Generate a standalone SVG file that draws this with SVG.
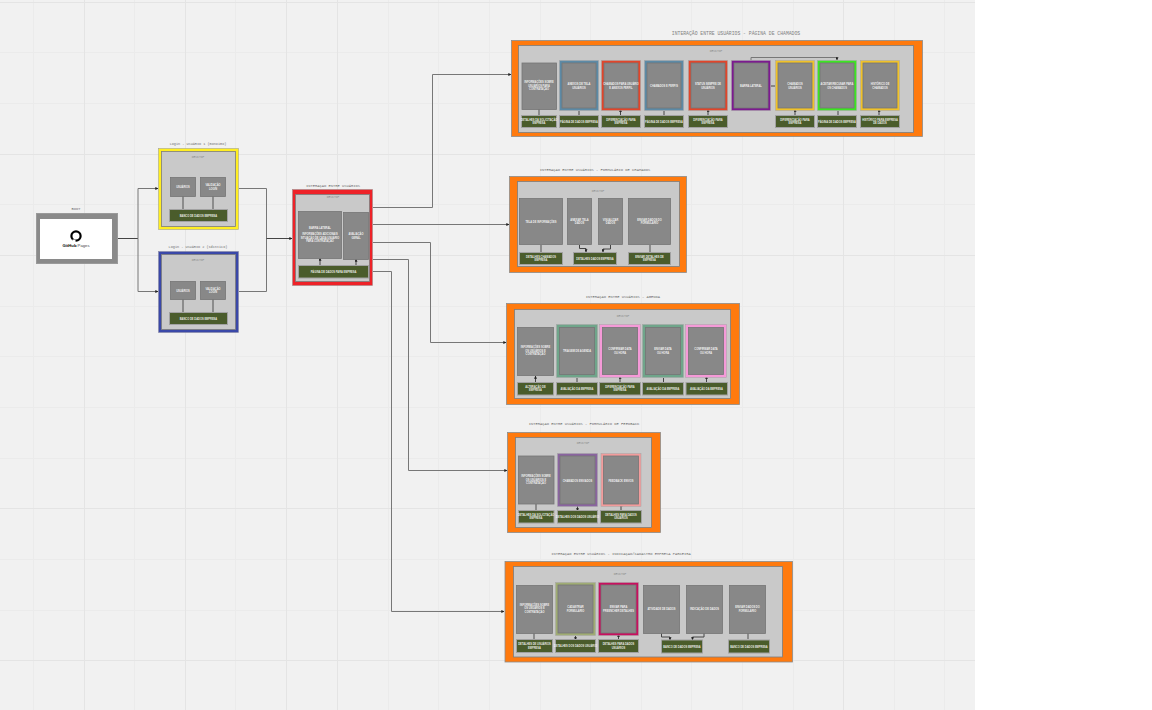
<svg xmlns="http://www.w3.org/2000/svg" width="1152" height="710" viewBox="0 0 1152 710">
<defs>
<style>
.bg{fill:#f1f1f1}
.g{stroke:#ebebeb;stroke-width:1;fill:none}
.G{stroke:#e4e4e4;stroke-width:1;fill:none}
.t{font:4.75px "Liberation Mono",monospace;fill:#808080;text-anchor:middle}
.u{font:3.75px "Liberation Mono",monospace;fill:#707070;text-anchor:middle}
.v{font:3.5px "Liberation Mono",monospace;fill:#707070;text-anchor:middle}
.d{font:3px "Liberation Mono",monospace;fill:#8a8a8a;text-anchor:middle}
.l{font:700 2.6px "Liberation Sans",Arial,sans-serif;fill:#fff;fill-opacity:.9;text-anchor:middle}
.n{fill:#888;stroke:#767676;stroke-width:.8}
.b{fill:#4a5c2b;stroke:#a2a2a2;stroke-width:1}
.p{fill:#c9c9c9;stroke:#7d7d7d;stroke-width:.8}
.o{fill:#ff7a0e;stroke:#8c8c8c;stroke-width:.8}
.f{stroke:#a5a5a5;stroke-width:.5}
.c{fill:none;stroke:#777;stroke-width:1}
.k{fill:none;stroke:#444;stroke-width:1}
.s{fill:none;stroke:#8c8c8c;stroke-width:2}
</style>
<marker id="a" markerWidth="3" markerHeight="3" refX="2.700" refY="1.500" orient="auto" markerUnits="userSpaceOnUse"><path d="M0 0L3 1.500L0 3Z" fill="#222"/></marker>
</defs>
<rect width="1152" height="710" fill="#fff"/>
<rect class="bg" width="975" height="710"/>
<g id="grid">
<path class="g" d="M33.500 0V710M134.500 0V710M235.500 0V710M388.500 0V710M438.500 0V710M489.500 0V710M540.500 0V710M590.500 0V710M641.500 0V710M691.500 0V710M742.500 0V710M793.500 0V710M894.500 0V710M944.500 0V710M0 52.500H975M0 103.500H975M0 204.500H975M0 306.500H975M0 356.500H975M0 407.500H975M0 458.500H975M0 559.500H975M0 610.500H975"/>
<path class="G" d="M84.500 0V710M185.500 0V710M286.500 0V710M337.500 0V710M843.500 0V710M0 2.500H975M0 154.500H975M0 255.500H975M0 508.500H975M0 660.500H975"/>
</g>

<g id="connectors">
<path class="k" d="M117 238.500H138"/>
<path class="c" marker-end="url(#a)" d="M138 238.500V188.500H158"/>
<path class="c" marker-end="url(#a)" d="M138 238.500V291.500H158"/>
<path class="c" d="M239 188.500H266.500V291.500H239"/>
<path class="k" marker-end="url(#a)" d="M266.500 238.500H292"/>
<path class="c" marker-end="url(#a)" d="M373 207.500H432.500V74.500H511"/>
<path class="c" marker-end="url(#a)" d="M373 224.500H509"/>
<path class="c" marker-end="url(#a)" d="M373 242.500H430.500V342.500H506"/>
<path class="c" marker-end="url(#a)" d="M373 259.500H408.500V470.500H507"/>
<path class="c" marker-end="url(#a)" d="M373 271.500H391.500V611.500H504"/>
</g>

<g id="boot">
<text class="u" x="76" y="209.500">BOOT</text>
<rect x="36.500" y="213.500" width="81" height="50" fill="#8a8a8a" stroke="#9a9a9a"/>
<rect x="40" y="219" width="72" height="40" fill="#fff"/>
<circle cx="76" cy="236" r="4.600" fill="none" stroke="#000" stroke-width="2.200"/>
<rect x="72.500" y="239.500" width="3" height="2.500" fill="#fff"/>
<text x="76" y="246.500" font-family="Liberation Sans, Arial, sans-serif" font-size="4.200" text-anchor="middle"><tspan font-weight="700" fill="#000">GitHub</tspan><tspan fill="#444"> Pages</tspan></text>
</g>

<g id="login1">
<text class="v" x="198" y="145">Login - USUÁRIO 1 (monoimo)</text>
<rect x="158.500" y="148.500" width="80" height="81" fill="#ffee22" stroke="#a5a58a" stroke-width=".6"/>
<rect class="p" x="161.500" y="151.500" width="74" height="75"/>
<text class="d" x="198" y="157.500">DESKTOP</text>
<path class="s" d="M183 196V209M213 196V209"/>
<rect class="n" x="170.500" y="177.500" width="25" height="19"/><text class="l" x="183" y="188">USUÁRIOS</text>
<rect class="n" x="200.500" y="177.500" width="25" height="19"/><text class="l" x="213" y="186">VALIDAÇÃO<tspan x="213" dy="3.500">LOGIN</tspan></text>
<rect class="b" x="169.500" y="209.500" width="58" height="12"/><text class="l" x="198.500" y="216.500">BANCO DE DADOS EMPRESA</text>
</g>

<g id="login2">
<text class="v" x="198" y="247.500">Login - USUÁRIO 2 (sdcntico)</text>
<rect x="158.500" y="251.500" width="80" height="81" fill="#3a48a8" stroke="#8a8aa5" stroke-width=".6"/>
<rect class="p" x="161.500" y="254.500" width="74" height="75"/>
<text class="d" x="198" y="260.500">DESKTOP</text>
<path class="s" d="M183 299V312M213 299V312"/>
<rect class="n" x="170.500" y="281.500" width="25" height="18"/><text class="l" x="183" y="291.500">USUÁRIOS</text>
<rect class="n" x="200.500" y="281.500" width="25" height="18"/><text class="l" x="213" y="289.500">VALIDAÇÃO<tspan x="213" dy="3.500">LOGIN</tspan></text>
<rect class="b" x="169.500" y="312.500" width="58" height="12"/><text class="l" x="198.500" y="319.500">BANCO DE DADOS EMPRESA</text>
</g>

<g id="interacao">
<text class="u" x="333" y="186.500">INTERAÇÃO ENTRE USUÁRIOS</text>
<rect x="292.500" y="189.500" width="80" height="96" fill="#ee2228" stroke="#a08a8a" stroke-width=".6"/>
<rect class="p" x="295.500" y="194.500" width="74" height="87"/>
<text class="d" x="333" y="197.500">DESKTOP</text>
<path class="k" marker-end="url(#a)" d="M320 265V258"/>
<path class="k" marker-end="url(#a)" d="M356 265V259"/>
<rect class="n" x="298.500" y="211.500" width="43" height="47"/><text class="l" x="320" y="229">BARRA LATERAL<tspan x="320" dy="6">INFORMAÇÕES ADICIONAIS</tspan><tspan x="320" dy="3.500">SITUAÇÃO DE CADA USUÁRIO</tspan><tspan x="320" dy="3.500">PARA CONTRATAÇÃO</tspan></text>
<rect class="n" x="343.500" y="212.500" width="25" height="47"/><text class="l" x="356" y="235">AVALIAÇÃO<tspan x="356" dy="3.500">GERAL</tspan></text>
<rect class="b" x="298.500" y="265.500" width="70" height="12.500"/><text class="l" x="333.500" y="272.500">PÁGINA DE DADOS PARA EMPRESA</text>
</g>

<g id="chamados">
<text class="t" x="736" y="34.500">INTERAÇÃO ENTRE USUÁRIOS - PÁGINA DE CHAMADOS</text>
<rect class="o" x="511.500" y="40.500" width="411" height="96"/>
<rect class="p" x="518.500" y="45.500" width="395" height="87"/>
<text class="d" x="716" y="51.500">DESKTOP</text>
<path class="s" d="M539 109V115"/>
<path class="k" marker-end="url(#a)" d="M579 111V118"/><path class="k" marker-end="url(#a)" d="M620.500 115V109"/><path class="k" marker-end="url(#a)" d="M664 111V118"/><path class="k" marker-end="url(#a)" d="M708 115V109"/><path class="k" marker-end="url(#a)" d="M795 115V109"/><path class="k" marker-end="url(#a)" d="M838 111V118"/><path class="k" marker-end="url(#a)" d="M879 115V109"/>
<path class="k" stroke-width="1.500" d="M771 86H775"/>
<path class="c" marker-end="url(#a)" d="M751 60V57.500H837V60"/>
</g>
<g id="ch1"><rect class="n" x="522" y="63" width="34.500" height="46.500" stroke-width="1.500"/><text class="l" x="539" y="83">INFORMAÇÕES SOBRE<tspan x="539" dy="3.500">USUÁRIOS PARA</tspan><tspan x="539" dy="3.500">CONTRATAÇÃO</tspan></text></g>
<g id="ch2"><rect class="f" x="559.500" y="60.500" width="39" height="50" fill="#5c8aa6"/><rect class="n" x="562" y="63" width="34" height="45"/><text class="l" x="579" y="85">ANEXOS DE TELA<tspan x="579" dy="3.500">USUÁRIOS</tspan></text></g>
<g id="ch3"><rect class="f" x="601.500" y="60.500" width="39" height="50" fill="#e2452a"/><rect class="n" x="604" y="63" width="34" height="45"/><text class="l" x="621" y="85">CHAMADOS PARA USUÁRIO<tspan x="621" dy="3.500">E ANEXOS PERFIL</tspan></text></g>
<g id="ch4"><rect class="f" x="644.500" y="60.500" width="39" height="50" fill="#5c8aa6"/><rect class="n" x="647" y="63" width="34" height="45"/><text class="l" x="664" y="87">CHAMADOS E PERFIS</text></g>
<g id="ch5"><rect class="f" x="688.500" y="60.500" width="39" height="50" fill="#e2452a"/><rect class="n" x="691" y="63" width="34" height="45"/><text class="l" x="708" y="85">STATUS SEMPRE DE<tspan x="708" dy="3.500">USUÁRIOS</tspan></text></g>
<g id="ch6"><rect class="f" x="731.500" y="60.500" width="39" height="50" fill="#7c1a90" stroke="#7c1a90"/><rect class="n" x="734" y="63" width="34" height="45"/><text class="l" x="751" y="87">BARRA LATERAL</text></g>
<g id="ch7"><rect class="f" x="775.500" y="60.500" width="39" height="50" fill="#f0c22a"/><rect class="n" x="778" y="63" width="34" height="45"/><text class="l" x="795" y="85">CHAMADOS<tspan x="795" dy="3.500">USUÁRIOS</tspan></text></g>
<g id="ch8"><rect class="f" x="817.500" y="60.500" width="39" height="50" fill="#3ce622"/><rect class="n" x="820" y="63" width="34" height="45"/><text class="l" x="837" y="85">ACEITAR/RECUSAR PARA<tspan x="837" dy="3.500">OS CHAMADOS</tspan></text></g>
<g id="ch9"><rect class="f" x="860.500" y="60.500" width="39" height="50" fill="#f0c22a"/><rect class="n" x="863" y="63" width="34" height="45"/><text class="l" x="880" y="85">HISTÓRICO DE<tspan x="880" dy="3.500">CHAMADOS</tspan></text></g>
<g id="ch-b1"><rect class="b" x="521.500" y="115.500" width="35" height="12"/><text class="l" x="539" y="120.500">DETALHES DA SOLICITAÇÃO<tspan x="539" dy="3.500">EMPRESA</tspan></text></g>
<g id="ch-b2"><rect class="b" x="559.500" y="115.500" width="39" height="12"/><text class="l" x="579" y="122.500">PÁGINA DE DADOS EMPRESA</text></g>
<g id="ch-b3"><rect class="b" x="601.500" y="115.500" width="39" height="12"/><text class="l" x="621" y="120.500">DIFERENCIAÇÃO PARA<tspan x="621" dy="3.500">EMPRESA</tspan></text></g>
<g id="ch-b4"><rect class="b" x="644.500" y="115.500" width="39" height="12"/><text class="l" x="664" y="122.500">PÁGINA DE DADOS EMPRESA</text></g>
<g id="ch-b5"><rect class="b" x="688.500" y="115.500" width="39" height="12"/><text class="l" x="708" y="120.500">DIFERENCIAÇÃO PARA<tspan x="708" dy="3.500">EMPRESA</tspan></text></g>
<g id="ch-b6"><rect class="b" x="775.500" y="115.500" width="39" height="12"/><text class="l" x="795" y="120.500">DIFERENCIAÇÃO PARA<tspan x="795" dy="3.500">EMPRESA</tspan></text></g>
<g id="ch-b7"><rect class="b" x="817.500" y="115.500" width="39" height="12"/><text class="l" x="837" y="122.500">PÁGINA DE DADOS EMPRESA</text></g>
<g id="ch-b8"><rect class="b" x="860.500" y="115.500" width="39" height="12"/><text class="l" x="880" y="120.500">HISTÓRICO PARA EMPRESA<tspan x="880" dy="3.500">DE DADOS</tspan></text></g>

<g id="formulario">
<text class="u" x="595" y="170.500">INTERAÇÃO ENTRE USUÁRIOS - FORMULÁRIO DE CHAMADOS</text>
<rect class="o" x="509.500" y="176.500" width="177" height="96"/>
<rect class="p" x="517.500" y="181.500" width="162" height="85"/>
<text class="d" x="598" y="191.500">DESKTOP</text>
<path class="s" d="M541 245V252M650 245V252"/>
<path class="k" marker-end="url(#a)" d="M579.500 245V248.500H586V252"/>
<path class="k" marker-end="url(#a)" d="M610.500 245V249H603V252"/>
</g>
<g id="fo1"><rect class="n" x="519.500" y="198.500" width="43" height="46"/><text class="l" x="541" y="222.500">TELA DE INFORMAÇÕES</text></g>
<g id="fo2"><rect class="n" x="567.500" y="198.500" width="24" height="46"/><text class="l" x="579.500" y="220.500">ANEXAR TELA<tspan x="579.500" dy="3.500">DADOS</tspan></text></g>
<g id="fo3"><rect class="n" x="598.500" y="198.500" width="24" height="46"/><text class="l" x="610.500" y="220.500">VISUALIZAR<tspan x="610.500" dy="3.500">DADOS</tspan></text></g>
<g id="fo4"><rect class="n" x="628.500" y="198.500" width="42" height="46"/><text class="l" x="649.500" y="220.500">ENVIAR DADOS DO<tspan x="649.500" dy="3.500">FORMULÁRIO</tspan></text></g>
<g id="fo-b1"><rect class="b" x="519.500" y="252.500" width="43" height="12"/><text class="l" x="541" y="257.500">DETALHES CHAMADOS<tspan x="541" dy="3.500">EMPRESA</tspan></text></g>
<g id="fo-b2"><rect class="b" x="573.500" y="252.500" width="43" height="12"/><text class="l" x="595" y="259.500">DETALHES DADOS EMPRESA</text></g>
<g id="fo-b3"><rect class="b" x="628.500" y="252.500" width="42" height="12"/><text class="l" x="649.500" y="257.500">ENVIAR DETALHES DE<tspan x="649.500" dy="3.500">EMPRESA</tspan></text></g>

<g id="agenda">
<text class="u" x="623" y="297.500">INTERAÇÃO ENTRE USUÁRIOS - AGENDA</text>
<rect class="o" x="506.500" y="303.500" width="233" height="101"/>
<rect class="p" x="514.500" y="309.500" width="216" height="89"/>
<text class="d" x="623" y="316.500">DESKTOP</text>
<path class="k" marker-end="url(#a)" d="M535.500 382V376"/><path class="k" marker-end="url(#a)" d="M577 378V386"/><path class="k" marker-end="url(#a)" d="M620 382V376"/><path class="k" marker-end="url(#a)" d="M663.500 378V386"/><path class="k" marker-end="url(#a)" d="M706.500 382V376"/>
</g>
<g id="ag1"><rect class="n" x="517.500" y="327.500" width="36" height="48"/><text class="l" x="535.500" y="348">INFORMAÇÕES SOBRE<tspan x="535.500" dy="3.500">OS USUÁRIOS E</tspan><tspan x="535.500" dy="3.500">CONTRATAÇÃO</tspan></text></g>
<g id="ag2"><rect class="f" x="556.500" y="324.500" width="41" height="53" fill="#6fa58a"/><rect class="n" x="559.500" y="327.500" width="35" height="47"/><text class="l" x="577" y="352">TRIAGEM DE AGENDA</text></g>
<g id="ag3"><rect class="f" x="599.500" y="324.500" width="41" height="53" fill="#f59ad8"/><rect class="n" x="602.500" y="327.500" width="35" height="47"/><text class="l" x="620" y="350">CONFIRMAR DATA<tspan x="620" dy="3.500">OU HORA</tspan></text></g>
<g id="ag4"><rect class="f" x="642.500" y="324.500" width="41" height="53" fill="#6fa58a"/><rect class="n" x="645.500" y="327.500" width="35" height="47"/><text class="l" x="663" y="350">ENVIAR DATA<tspan x="663" dy="3.500">OU HORA</tspan></text></g>
<g id="ag5"><rect class="f" x="685.500" y="324.500" width="41" height="53" fill="#f59ad8"/><rect class="n" x="688.500" y="327.500" width="35" height="47"/><text class="l" x="706" y="350">CONFIRMAR DATA<tspan x="706" dy="3.500">OU HORA</tspan></text></g>
<g id="ag-b1"><rect class="b" x="517.500" y="382.500" width="36" height="12.500"/><text class="l" x="535.500" y="387.500">ALTERAÇÃO DE<tspan x="535.500" dy="3.500">EMPRESA</tspan></text></g>
<g id="ag-b2"><rect class="b" x="556.500" y="382.500" width="41" height="12.500"/><text class="l" x="577" y="389.500">AVALIAÇÃO DA EMPRESA</text></g>
<g id="ag-b3"><rect class="b" x="599.500" y="382.500" width="41" height="12.500"/><text class="l" x="620" y="387.500">DIFERENCIAÇÃO PARA<tspan x="620" dy="3.500">EMPRESA</tspan></text></g>
<g id="ag-b4"><rect class="b" x="642.500" y="382.500" width="41" height="12.500"/><text class="l" x="663" y="389.500">AVALIAÇÃO DA EMPRESA</text></g>
<g id="ag-b5"><rect class="b" x="686" y="382.500" width="41.500" height="12.500"/><text class="l" x="706.500" y="389.500">AVALIAÇÃO DA EMPRESA</text></g>

<g id="feedback">
<text class="u" x="584" y="425">INTERAÇÃO ENTRE USUÁRIOS - FORMULÁRIO DE FEEDBACK</text>
<rect class="o" x="507.500" y="432.500" width="153" height="100"/>
<rect class="p" x="515.500" y="437.500" width="136" height="90"/>
<text class="d" x="583" y="443.500">DESKTOP</text>
<path class="s" d="M536 504V510"/>
<path class="k" marker-end="url(#a)" d="M577.500 504V511"/><path class="k" marker-end="url(#a)" d="M621 510V504"/>
</g>
<g id="fe1"><rect class="n" x="518.500" y="456" width="35.500" height="48"/><text class="l" x="536" y="477">INFORMAÇÕES SOBRE<tspan x="536" dy="3.500">OS USUÁRIOS E</tspan><tspan x="536" dy="3.500">CONTRATAÇÃO</tspan></text></g>
<g id="fe2"><rect class="f" x="557.500" y="453.500" width="40" height="53" fill="#8a64a0"/><rect class="n" x="560" y="456" width="35" height="48"/><text class="l" x="577.500" y="481.500">CHAMADOS ENVIADOS</text></g>
<g id="fe3"><rect class="f" x="601" y="453.500" width="40" height="53" fill="#f29c9c"/><rect class="n" x="603.500" y="456" width="35" height="48"/><text class="l" x="621" y="481.500">FEEDBACK ENVIOS</text></g>
<g id="fe-b1"><rect class="b" x="518.500" y="510.500" width="35.500" height="12.500"/><text class="l" x="536" y="515.500">DETALHES DA SOLICITAÇÃO<tspan x="536" dy="3.500">EMPRESA</tspan></text></g>
<g id="fe-b2"><rect class="b" x="557.500" y="510.500" width="40" height="12.500"/><text class="l" x="577.500" y="517.500">DETALHES DOS DADOS USUÁRIO</text></g>
<g id="fe-b3"><rect class="b" x="600.500" y="510.500" width="41" height="12.500"/><text class="l" x="621" y="515.500">DETALHES PARA DADOS<tspan x="621" dy="3.500">USUÁRIOS</tspan></text></g>

<g id="parceira">
<text class="u" x="621" y="555">INTERAÇÃO ENTRE USUÁRIOS - INDICAÇÃO/CADASTRO EMPRESA PARCEIRA</text>
<rect class="o" x="505" y="561.500" width="287.500" height="100.500"/>
<rect class="p" x="513.500" y="566.500" width="269" height="90.500"/>
<text class="d" x="620" y="574.500">DESKTOP</text>
<path class="s" d="M534 633V639M748 633V639"/>
<path class="k" marker-end="url(#a)" d="M575.500 636V640"/><path class="k" marker-end="url(#a)" d="M618.500 639V634"/>
<path class="k" marker-end="url(#a)" d="M661.500 633V637H670V640"/>
<path class="k" marker-end="url(#a)" d="M704 633V637H692.500V640"/>
</g>
<g id="pa1"><rect class="n" x="516.500" y="585.500" width="36" height="48"/><text class="l" x="534.500" y="605.500">INFORMAÇÕES SOBRE<tspan x="534.500" dy="3.500">OS USUÁRIOS E</tspan><tspan x="534.500" dy="3.500">CONTRATAÇÃO</tspan></text></g>
<g id="pa2"><rect class="f" x="555.500" y="582.500" width="40" height="53" fill="#a0ad74"/><rect class="n" x="558" y="585" width="35" height="48"/><text class="l" x="575.500" y="608">CADASTRAR<tspan x="575.500" dy="3.500">FORMULÁRIO</tspan></text></g>
<g id="pa3"><rect class="f" x="598.500" y="582.500" width="40" height="53" fill="#c8105f"/><rect class="n" x="601" y="585" width="35" height="48"/><text class="l" x="618.500" y="608">ENVIAR PARA<tspan x="618.500" dy="3.500">PREENCHER DETALHES</tspan></text></g>
<g id="pa4"><rect class="n" x="643.500" y="585.500" width="36" height="48"/><text class="l" x="661.500" y="610">ATIVIDADE DE DADOS</text></g>
<g id="pa5"><rect class="n" x="686.500" y="585.500" width="36" height="48"/><text class="l" x="704.500" y="610">INDICAÇÃO DE DADOS</text></g>
<g id="pa6"><rect class="n" x="729.500" y="585.500" width="36" height="48"/><text class="l" x="747.500" y="608">ENVIAR DADOS DO<tspan x="747.500" dy="3.500">FORMULÁRIO</tspan></text></g>
<g id="pa-b1"><rect class="b" x="516.500" y="639.500" width="36" height="13"/><text class="l" x="534.500" y="645">DETALHES DE USUÁRIOS<tspan x="534.500" dy="3.500">EMPRESA</tspan></text></g>
<g id="pa-b2"><rect class="b" x="555.500" y="639.500" width="40" height="13"/><text class="l" x="575.500" y="647">DETALHES DOS DADOS USUÁRIO</text></g>
<g id="pa-b3"><rect class="b" x="598.500" y="639.500" width="40" height="13"/><text class="l" x="618.500" y="645">DETALHES PARA DADOS<tspan x="618.500" dy="3.500">USUÁRIOS</tspan></text></g>
<g id="pa-b4"><rect class="b" x="661.500" y="640" width="41" height="13"/><text class="l" x="682" y="647.500">BANCO DE DADOS EMPRESA</text></g>
<g id="pa-b5"><rect class="b" x="728.500" y="640" width="41" height="13"/><text class="l" x="749" y="647.500">BANCO DE DADOS EMPRESA</text></g>
</svg>
